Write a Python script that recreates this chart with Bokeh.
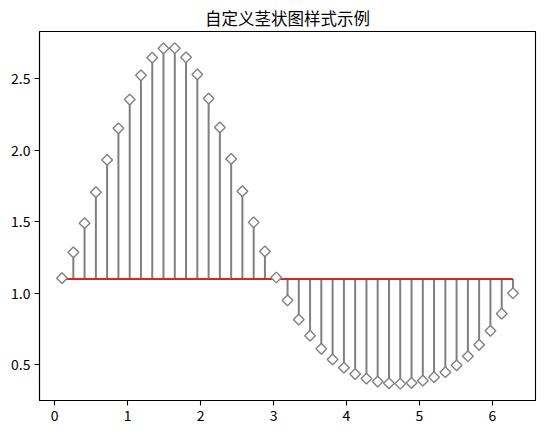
import math
from bokeh.plotting import figure
from bokeh.models import FixedTicker
from bokeh.embed import file_html
from bokeh.resources import INLINE

title_text = "自定义茎状图样式示例"
x_vals = [0.100, 0.255, 0.409, 0.564, 0.718, 0.873, 1.028, 1.182, 1.337, 1.491,
          1.646, 1.800, 1.955, 2.110, 2.264, 2.419, 2.573, 2.728, 2.882, 3.037,
          3.192, 3.346, 3.501, 3.655, 3.810, 3.965, 4.119, 4.274, 4.428, 4.583,
          4.737, 4.892, 5.047, 5.201, 5.356, 5.510, 5.665, 5.819, 5.974, 6.129,
          6.283]
y_vals = [1.105, 1.286, 1.489, 1.706, 1.931, 2.152, 2.353, 2.522, 2.645, 2.710,
          2.711, 2.648, 2.528, 2.360, 2.158, 1.938, 1.713, 1.495, 1.292, 1.110,
          0.951, 0.816, 0.704, 0.612, 0.538, 0.480, 0.436, 0.404, 0.383, 0.371,
          0.368, 0.374, 0.389, 0.414, 0.449, 0.497, 0.560, 0.640, 0.738, 0.857,
          1.000]
baseline = 1.1
x_ticks = [0, 1, 2, 3, 4, 5, 6]
y_ticks = [0.5, 1.0, 1.5, 2.0, 2.5]

p = figure(width=545, height=436, output_backend="svg", toolbar_location=None,
           x_range=(-0.209, 6.592), y_range=(0.251, 2.828),
           min_border_left=39, min_border_right=10, min_border_top=31, min_border_bottom=36)

p.title.text = title_text
p.title.align = "center"
p.title.text_font = "Noto Sans CJK SC"
p.title.text_font_size = "16.5px"
p.title.text_font_style = "normal"
p.title.text_color = "#000000"
p.title.standoff = 4

p.xgrid.visible = False
p.ygrid.visible = False
p.outline_line_color = "black"
p.outline_line_width = 1.1

for ax in (p.xaxis, p.yaxis):
    ax.major_label_text_font = "Noto Sans CJK SC"
    ax.major_label_text_font_size = "14px"
    ax.major_label_text_color = "black"
    ax.axis_line_color = "black"
    ax.axis_line_width = 1.1
    ax.major_tick_line_color = "black"
    ax.major_tick_line_width = 1.1
    ax.major_tick_out = 5
    ax.major_tick_in = 0
    ax.major_label_standoff = 4
    ax.minor_tick_line_color = None
p.xaxis.ticker = FixedTicker(ticks=x_ticks)
p.yaxis.ticker = FixedTicker(ticks=y_ticks)
p.yaxis.major_label_overrides = {t: f"{t:.1f}" for t in y_ticks}

p.segment(x0=x_vals, y0=[baseline] * len(x_vals), x1=x_vals, y1=y_vals,
          line_color="#808080", line_width=2)
p.segment(x0=[x_vals[0]], y0=[baseline], x1=[x_vals[-1]], y1=[baseline],
          line_color="#d62728", line_width=2)
p.scatter(x=x_vals, y=y_vals, marker="square", angle=math.pi / 4, size=7.6,
          fill_color="white", line_color="#808080", line_width=1.4)

open("out.html", "w").write(file_html(p, INLINE))
